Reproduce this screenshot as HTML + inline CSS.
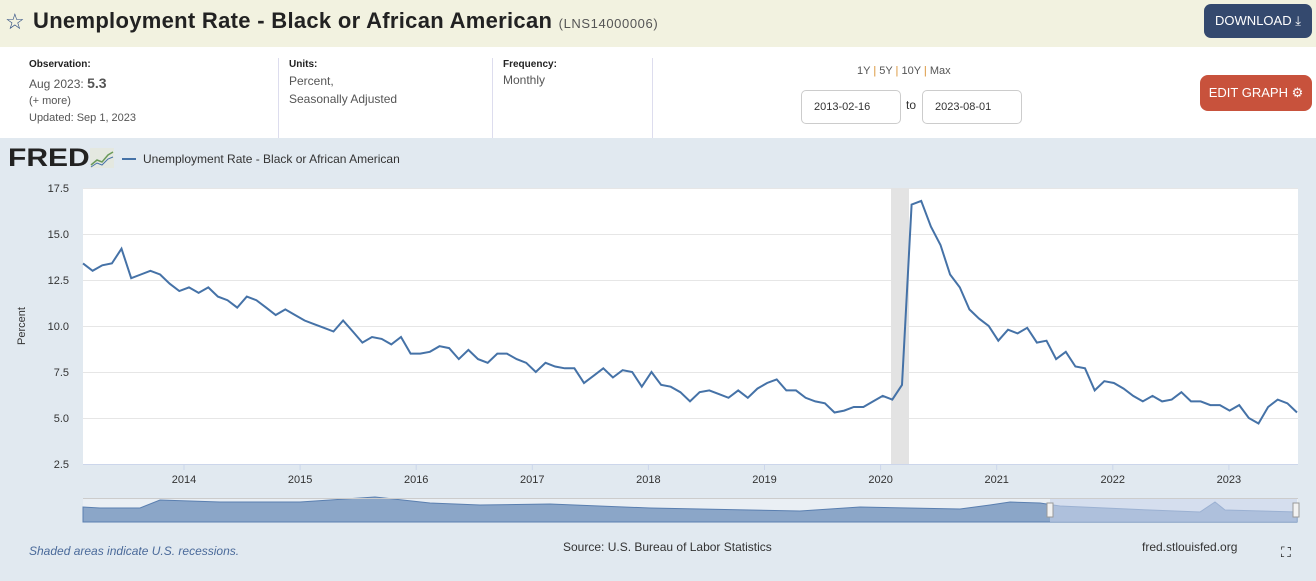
<!DOCTYPE html>
<html><head><meta charset="utf-8"><style>
body{margin:0;width:1316px;height:581px;overflow:hidden;font-family:"Liberation Sans",sans-serif;background:#e1e9f0;position:relative}
.a{position:absolute}
</style></head><body>
<div class="a" style="left:0;top:0;width:1316px;height:47px;background:#f2f2e0"></div>
<div class="a" style="left:5px;top:9px;font-size:22px;color:#2b4a80">☆</div>
<div class="a" style="left:33px;top:8px;font-size:22px;font-weight:bold;color:#222;letter-spacing:0.3px">Unemployment Rate - Black or African American <span style="font-size:13px;font-weight:normal;color:#555;letter-spacing:0.6px">(LNS14000006)</span></div>
<div class="a" style="left:1204px;top:4px;width:108px;height:34px;background:#34496e;border-radius:7px;color:#fff;font-size:13px;line-height:34px;text-align:center">DOWNLOAD ⤓</div>
<div class="a" style="left:0;top:47px;width:1316px;height:91px;background:#fff"></div>
<div class="a" style="left:278px;top:58px;width:1px;height:80px;background:#dde"></div>
<div class="a" style="left:492px;top:58px;width:1px;height:80px;background:#dde"></div>
<div class="a" style="left:652px;top:58px;width:1px;height:80px;background:#dde"></div>
<div class="a" style="left:29px;top:59px;font-size:10px;font-weight:bold;color:#222">Observation:</div>
<div class="a" style="left:29px;top:75px;font-size:12px;color:#555">Aug 2023: <b style="font-size:14px">5.3</b></div>
<div class="a" style="left:29px;top:95px;font-size:11px;color:#555">(+ more)</div>
<div class="a" style="left:29px;top:112px;font-size:11px;color:#555">Updated: Sep 1, 2023</div>
<div class="a" style="left:289px;top:59px;font-size:10px;font-weight:bold;color:#222">Units:</div>
<div class="a" style="left:289px;top:72px;font-size:12px;color:#555;line-height:18px">Percent,<br>Seasonally Adjusted</div>
<div class="a" style="left:503px;top:59px;font-size:10px;font-weight:bold;color:#222">Frequency:</div>
<div class="a" style="left:503px;top:73px;font-size:12px;color:#555">Monthly</div>
<div class="a" style="left:857px;top:65px;font-size:11px;color:#555">1Y <span style="color:#d89030">|</span> 5Y <span style="color:#d89030">|</span> 10Y <span style="color:#d89030">|</span> Max</div>
<div class="a" style="left:801px;top:90px;width:98px;height:32px;border:1px solid #ccc;border-radius:5px;font-size:11px;color:#333;line-height:32px;text-indent:12px">2013-02-16</div>
<div class="a" style="left:906px;top:98px;font-size:12px;color:#333">to</div>
<div class="a" style="left:922px;top:90px;width:98px;height:32px;border:1px solid #ccc;border-radius:5px;font-size:11px;color:#333;line-height:32px;text-indent:12px">2023-08-01</div>
<div class="a" style="left:1200px;top:75px;width:112px;height:36px;background:#c8523c;border-radius:8px;color:#fff;font-size:13px;line-height:36px;text-align:center">EDIT GRAPH ⚙</div>
<div class="a" style="left:8px;top:144px;font-size:25px;font-weight:900;color:#222;transform:scaleX(1.2);transform-origin:left">FRED</div>
<svg class="a" style="left:90px;top:148px" width="24" height="20"><rect width="24" height="20" fill="#e4e8e0"/><polyline points="1,17 7,12 12,14 18,7 23,4" fill="none" stroke="#6a9a5a" stroke-width="1.5"/><polyline points="1,19 7,15 12,17 18,11 23,9" fill="none" stroke="#4572a7" stroke-width="1"/></svg>
<div class="a" style="left:122px;top:158px;width:14px;height:2px;background:#4572a7"></div>
<div class="a" style="left:143px;top:152px;font-size:12px;color:#333">Unemployment Rate - Black or African American</div>
<svg class="a" style="left:0;top:0" width="1316" height="581" id="s">
<rect x="83" y="188" width="1215" height="276" fill="#fff"/>
<g stroke="#e6e6e6" stroke-width="1">
<line x1="83" x2="1298" y1="188.5" y2="188.5"/><line x1="83" x2="1298" y1="234.5" y2="234.5"/><line x1="83" x2="1298" y1="280.5" y2="280.5"/><line x1="83" x2="1298" y1="326.5" y2="326.5"/><line x1="83" x2="1298" y1="372.5" y2="372.5"/><line x1="83" x2="1298" y1="418.5" y2="418.5"/></g>
<line x1="83" x2="1298" y1="464.5" y2="464.5" stroke="#ccd6eb"/>
<rect x="891" y="188" width="18" height="276" fill="#e3e3e3"/>
<g font-size="11" fill="#333" text-anchor="end"><text x="69" y="192">17.5</text><text x="69" y="238">15.0</text><text x="69" y="284">12.5</text><text x="69" y="330">10.0</text><text x="69" y="376">7.5</text><text x="69" y="422">5.0</text><text x="69" y="468">2.5</text></g>
<text x="25" y="326" font-size="11" fill="#333" text-anchor="middle" transform="rotate(-90 25 326)">Percent</text>
<g font-size="11" fill="#333" text-anchor="middle" id="xt"></g>
<polyline id="ln" fill="none" stroke="#4572a7" stroke-width="2"/>
<rect x="83" y="498" width="1215" height="24" fill="#fff" opacity="0.3"/>
<path id="nav" fill="#8ba6c8" stroke="#5a7fb0"/>
<rect x="1050" y="498" width="247" height="24" fill="#c6d2ea" opacity="0.6"/>
<line x1="83" x2="1298" y1="498.5" y2="498.5" stroke="#ccc"/>
<rect x="1047" y="503" width="6" height="14" fill="#f2f2f2" stroke="#999"/>
<rect x="1293" y="503" width="6" height="14" fill="#f2f2f2" stroke="#999"/>
</svg>
<div class="a" style="left:29px;top:544px;font-size:12px;font-style:italic;color:#4a6a9a">Shaded areas indicate U.S. recessions.</div>
<div class="a" style="left:563px;top:540px;font-size:12px;color:#333">Source: U.S. Bureau of Labor Statistics</div>
<div class="a" style="left:1142px;top:540px;font-size:12px;color:#333">fred.stlouisfed.org</div>
<div class="a" style="left:1281px;top:544px;font-size:14px;color:#111">⛶</div>
<script>
var d=[13.4,13.0,13.3,13.4,14.2,12.6,12.8,13.0,12.8,12.3,11.9,
12.1,11.8,12.1,11.6,11.4,11.0,11.6,11.4,11.0,10.6,10.9,10.6,
10.3,10.1,9.9,9.7,10.3,9.7,9.1,9.4,9.3,9.0,9.4,8.5,
8.5,8.6,8.9,8.8,8.2,8.7,8.2,8.0,8.5,8.5,8.2,8.0,
7.5,8.0,7.8,7.7,7.7,6.9,7.3,7.7,7.2,7.6,7.5,6.7,
7.5,6.8,6.7,6.4,5.9,6.4,6.5,6.3,6.1,6.5,6.1,6.6,
6.9,7.1,6.5,6.5,6.1,5.9,5.8,5.3,5.4,5.6,5.6,5.9,
6.2,6.0,6.8,16.6,16.8,15.4,14.4,12.8,12.1,10.9,10.4,10.0,
9.2,9.8,9.6,9.9,9.1,9.2,8.2,8.6,7.8,7.7,6.5,7.0,
6.9,6.6,6.2,5.9,6.2,5.9,6.0,6.4,5.9,5.9,5.7,5.7,
5.4,5.7,5.0,4.7,5.6,6.0,5.8,5.3];
var n=d.length,p=[];
for(var i=0;i<n;i++){p.push((83+i*1214/(n-1)).toFixed(1)+","+(464-(d[i]-2.5)*18.4).toFixed(1));}
document.getElementById("ln").setAttribute("points",p.join(" "));
var xt=document.getElementById("xt"),h="";
for(var y=0;y<10;y++){var x=184+y*116.1;h+='<text x="'+x+'" y="483">'+(2014+y)+'</text><line x1="'+x+'" x2="'+x+'" y1="464" y2="470" stroke="#ccd6eb"/>';}
xt.innerHTML=h;
var k=[[83,507],[100,508],[140,508],[160,500],[220,502],[300,502],[345,499],[375,497],[430,503],[480,505],[550,504],[650,508],[750,510],[800,511],[860,507],[960,509],[990,505],[1010,502],[1040,503],[1060,506],[1150,510],[1200,512],[1215,502],[1225,510],[1297,512]];
var s="M83,522";for(var j=0;j<k.length;j++)s+=" L"+k[j][0]+","+k[j][1];s+=" L1297,522 Z";
document.getElementById("nav").setAttribute("d",s);
</script>
</body></html>
